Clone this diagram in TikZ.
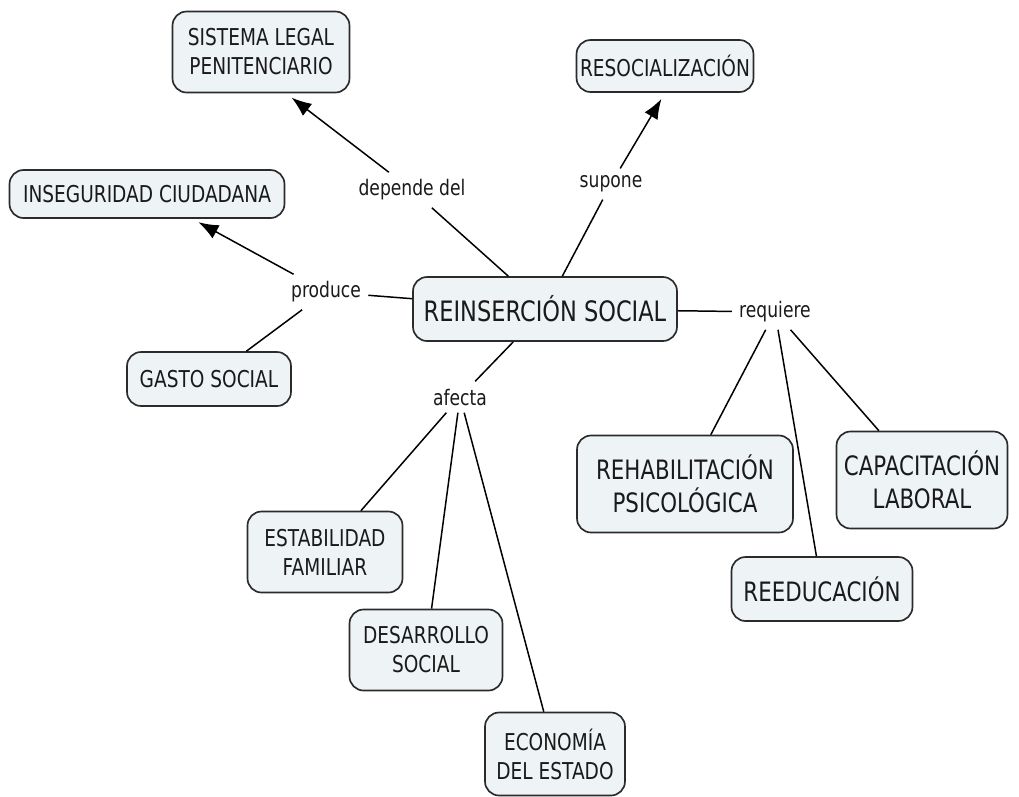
\documentclass[tikz,border=0pt]{standalone}
\usepackage{fontspec}
\setmainfont{DejaVu Sans}[FakeStretch=0.8]
\usetikzlibrary{arrows.meta}

\definecolor{conceptfill}{HTML}{EEF3F6}
\definecolor{conceptline}{HTML}{2B2B2B}
\definecolor{inktext}{HTML}{1A1A1A}

\tikzset{
  concept/.style={draw=conceptline, line width=0.95pt, rounded corners=8pt, fill=conceptfill,
    text=inktext, align=center, font=\fontsize{13.2}{16.5}\selectfont, inner sep=2pt},
  bigconcept/.style={concept, font=\fontsize{15.2}{19}\selectfont},
  linkword/.style={text=inktext, font=\fontsize{12.2}{14}\selectfont, inner sep=4pt},
  link/.style={draw=black, line width=0.85pt},
  linkarrow/.style={link, -{Latex[length=4mm,width=3mm]}, shorten >=4pt}
}

\begin{document}
\begin{tikzpicture}[x=0.02cm, y=-0.02cm]
    \useasboundingbox (0,0) rectangle (1019,796);
    \fill[white] (0,0) rectangle (1019,796);

    \node[concept, font=\fontsize{16}{20}\selectfont, minimum width=5.28cm, minimum height=1.28cm] (reinsercion) at (545,309) {REINSERCIÓN SOCIAL};

    \node[concept, minimum width=3.54cm, minimum height=1.62cm] (sistema) at (261,52) {SISTEMA LEGAL\\PENITENCIARIO};
    \node[concept, minimum width=3.48cm, minimum height=1.04cm] (resocializacion) at (665,66) {RESOCIALIZACIÓN};
    \node[concept, minimum width=5.5cm, minimum height=0.96cm] (inseguridad) at (147,194) {INSEGURIDAD CIUDADANA};
    \node[concept, minimum width=3.28cm, minimum height=1.08cm] (gasto) at (209,379) {GASTO SOCIAL};

    \node[concept, minimum width=3.1cm, minimum height=1.62cm] (estabilidad) at (325,552) {ESTABILIDAD\\FAMILIAR};
    \node[concept, minimum width=3.06cm, minimum height=1.62cm] (desarrollo) at (426,650) {DESARROLLO\\SOCIAL};
    \node[concept, minimum width=2.8cm, minimum height=1.66cm] (economia) at (555,754) {ECONOMÍA\\DEL ESTADO};

    \node[bigconcept, minimum width=4.32cm, minimum height=1.94cm] (rehabilitacion) at (685,484) {REHABILITACIÓN\\PSICOLÓGICA};
    \node[bigconcept, minimum width=3.62cm, minimum height=1.28cm] (reeducacion) at (822,589) {REEDUCACIÓN};
    \node[bigconcept, minimum width=3.42cm, minimum height=1.94cm] (capacitacion) at (922,480) {CAPACITACIÓN\\LABORAL};

    \node[linkword] (depende) at (412,190) {depende del};
    \node[linkword] (supone) at (611,184) {supone};
    \node[linkword] (produce) at (326,292) {produce};
    \node[linkword] (requiere) at (775,312) {requiere};
    \node[linkword] (afecta) at (460,397) {afecta};

    \draw[link] (reinsercion) -- (depende);
    \draw[linkarrow] (depende) -- ([xshift=0.5cm]sistema.south);

    \draw[link] (reinsercion) -- (supone);
    \draw[linkarrow] (supone) -- (resocializacion.south);

    \draw[link] (reinsercion) -- (produce);
    \draw[linkarrow] (produce) -- (inseguridad);
    \draw[link] (produce) -- (gasto);

    \draw[link] (reinsercion) -- (requiere);
    \draw[link] (requiere) -- (rehabilitacion);
    \draw[link] (requiere) -- (reeducacion);
    \draw[link] (requiere) -- (capacitacion);

    \draw[link] (reinsercion) -- (afecta);
    \draw[link] (afecta) -- (estabilidad);
    \draw[link] (afecta) -- (desarrollo);
    \draw[link] (afecta) -- (economia);
  \end{tikzpicture}
\end{document}
